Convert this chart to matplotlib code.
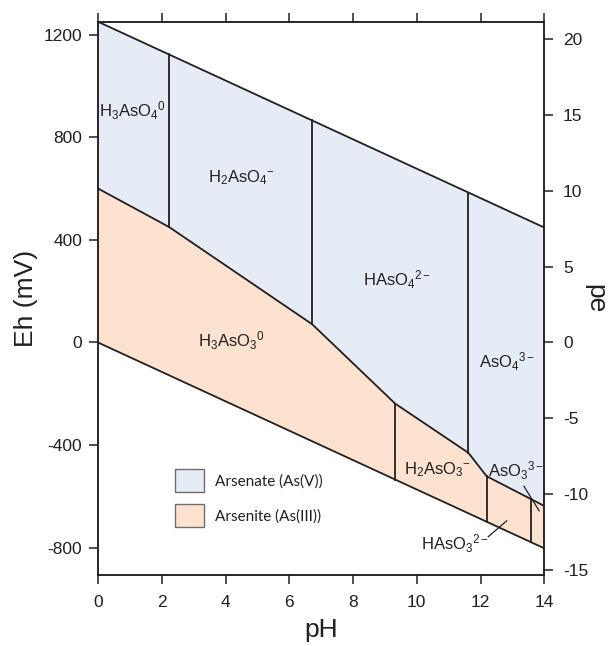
import numpy as np
import matplotlib
matplotlib.use("Agg")
import matplotlib.pyplot as plt
from matplotlib.patches import Patch

plt.rcParams["font.family"] = ["Liberation Sans", "DejaVu Sans"]
plt.rcParams["axes.unicode_minus"] = False
plt.rcParams["mathtext.fontset"] = "custom"
plt.rcParams["mathtext.rm"] = "Lato"
plt.rcParams["mathtext.it"] = "Lato"
plt.rcParams["mathtext.default"] = "regular"

# Water stability limits (Eh in mV)
ph_water = [0, 14]
eh_o2 = [1250, 448]      # upper limit, O2/H2O
eh_h2 = [0, -802]        # lower limit, H2O/H2

# As(V)/As(III) redox boundary
ph_redox = [0, 2.23, 6.72, 9.32, 11.62, 12.19, 14]
eh_redox = [600, 450, 71, -238, -430, -521, -637]

# Acid/base boundaries (pH)
pka_as5 = [2.23, 6.72, 11.62]
pka_as3 = [9.32, 12.19, 13.58]

# Species labels: text, pH, Eh
species = [
    (r"$H_3AsO_4{}^0$", 1.08, 879),
    (r"$H_2AsO_4{}^{-}$", 4.51, 626),
    (r"$HAsO_4{}^{2-}$", 9.37, 223),
    (r"$AsO_4{}^{3-}$", 12.82, -99),
    (r"$H_3AsO_3{}^0$", 4.19, -17),
    (r"$H_2AsO_3{}^{-}$", 10.64, -514),
    (r"$AsO_3{}^{3-}$", 13.13, -521),
    (r"$HAsO_3{}^{2-}$", 11.2, -809),
]

legend_labels = ["Arsenate (As(V))", "Arsenite (As(III))"]
as5_color = "#e6ecf5"
as3_color = "#fde3cf"
ink = "#231f20"

eh_ticks = [-800, -400, 0, 400, 800, 1200]
pe_ticks = [-15, -10, -5, 0, 5, 10, 15, 20]
ph_ticks = [0, 2, 4, 6, 8, 10, 12, 14]

fig = plt.figure(figsize=(6.08, 6.46), dpi=100)
ax = fig.add_axes([0.1612, 0.1099, 0.734, 0.8565])

# Filled stability fields
ph_r = np.array(ph_redox, dtype=float)
eh_r = np.array(eh_redox, dtype=float)
as5_x = np.concatenate([ph_water, ph_r[::-1]])
as5_y = np.concatenate([eh_o2, eh_r[::-1]])
ax.fill(as5_x, as5_y, color=as5_color, lw=0, zorder=1)
as3_x = np.concatenate([ph_r, ph_water[::-1]])
as3_y = np.concatenate([eh_r, eh_h2[::-1]])
ax.fill(as3_x, as3_y, color=as3_color, lw=0, zorder=1)

lw = 1.3
ax.plot(ph_water, eh_o2, color=ink, lw=lw, zorder=3)
ax.plot(ph_water, eh_h2, color=ink, lw=lw, zorder=3)
ax.plot(ph_redox, eh_redox, color=ink, lw=lw, zorder=3)

for p in pka_as5:
    top = np.interp(p, ph_water, eh_o2)
    bot = np.interp(p, ph_redox, eh_redox)
    ax.plot([p, p], [bot, top], color=ink, lw=lw, zorder=3)
for p in pka_as3:
    top = np.interp(p, ph_redox, eh_redox)
    bot = np.interp(p, ph_water, eh_h2)
    ax.plot([p, p], [bot, top], color=ink, lw=lw, zorder=3)

for txt, x, y in species:
    ax.text(x, y, txt, ha="center", va="baseline", fontsize=12,
            color=ink, zorder=4)

# Leader lines for the small fields
ax.plot([13.36, 13.84], [-560, -656], color=ink, lw=0.9, zorder=4)
ax.plot([12.24, 12.82], [-757, -695], color=ink, lw=0.9, zorder=4)

ax.set_xlim(0, 14)
ax.set_ylim(-906, 1250)
ax.set_xticks(ph_ticks)
ax.set_yticks(eh_ticks)
ax.tick_params(axis="both", direction="out", length=6.5, width=1.1,
               labelsize=12.5, pad=5, color=ink, labelcolor=ink)
ax.tick_params(axis="x", top=True, pad=8)
for s in ax.spines.values():
    s.set_linewidth(1.1)
    s.set_color(ink)

ax.set_xlabel("pH", fontsize=19, color=ink, labelpad=6)
ax.set_ylabel("Eh (mV)", fontsize=19, color=ink, labelpad=4)

# pe scale on the right
ax2 = ax.twinx()
lo, hi = ax.get_ylim()
ax2.set_ylim(lo / 59.16, hi / 59.16)
ax2.set_yticks(pe_ticks)
ax2.tick_params(axis="y", direction="out", length=6.5, width=1.1,
                labelsize=12.5, pad=7, color=ink, labelcolor=ink)
for s in ax2.spines.values():
    s.set_linewidth(1.1)
    s.set_color(ink)
ax2.set_ylabel("pe", fontsize=19, color=ink, rotation=270, labelpad=14)

handles = [Patch(facecolor=as5_color, edgecolor="#6d6e70", lw=1.0),
           Patch(facecolor=as3_color, edgecolor="#6d6e70", lw=1.0)]
leg = ax.legend(handles, legend_labels, loc="upper left",
                bbox_to_anchor=(0.1725, 0.191), frameon=False,
                borderpad=0, borderaxespad=0, handlelength=1.9,
                handleheight=1.9, handletextpad=0.7, labelspacing=0.8,
                prop={"family": "Lato", "size": 11})
for t in leg.get_texts():
    t.set_color(ink)

fig.savefig("out.png", dpi=100)
